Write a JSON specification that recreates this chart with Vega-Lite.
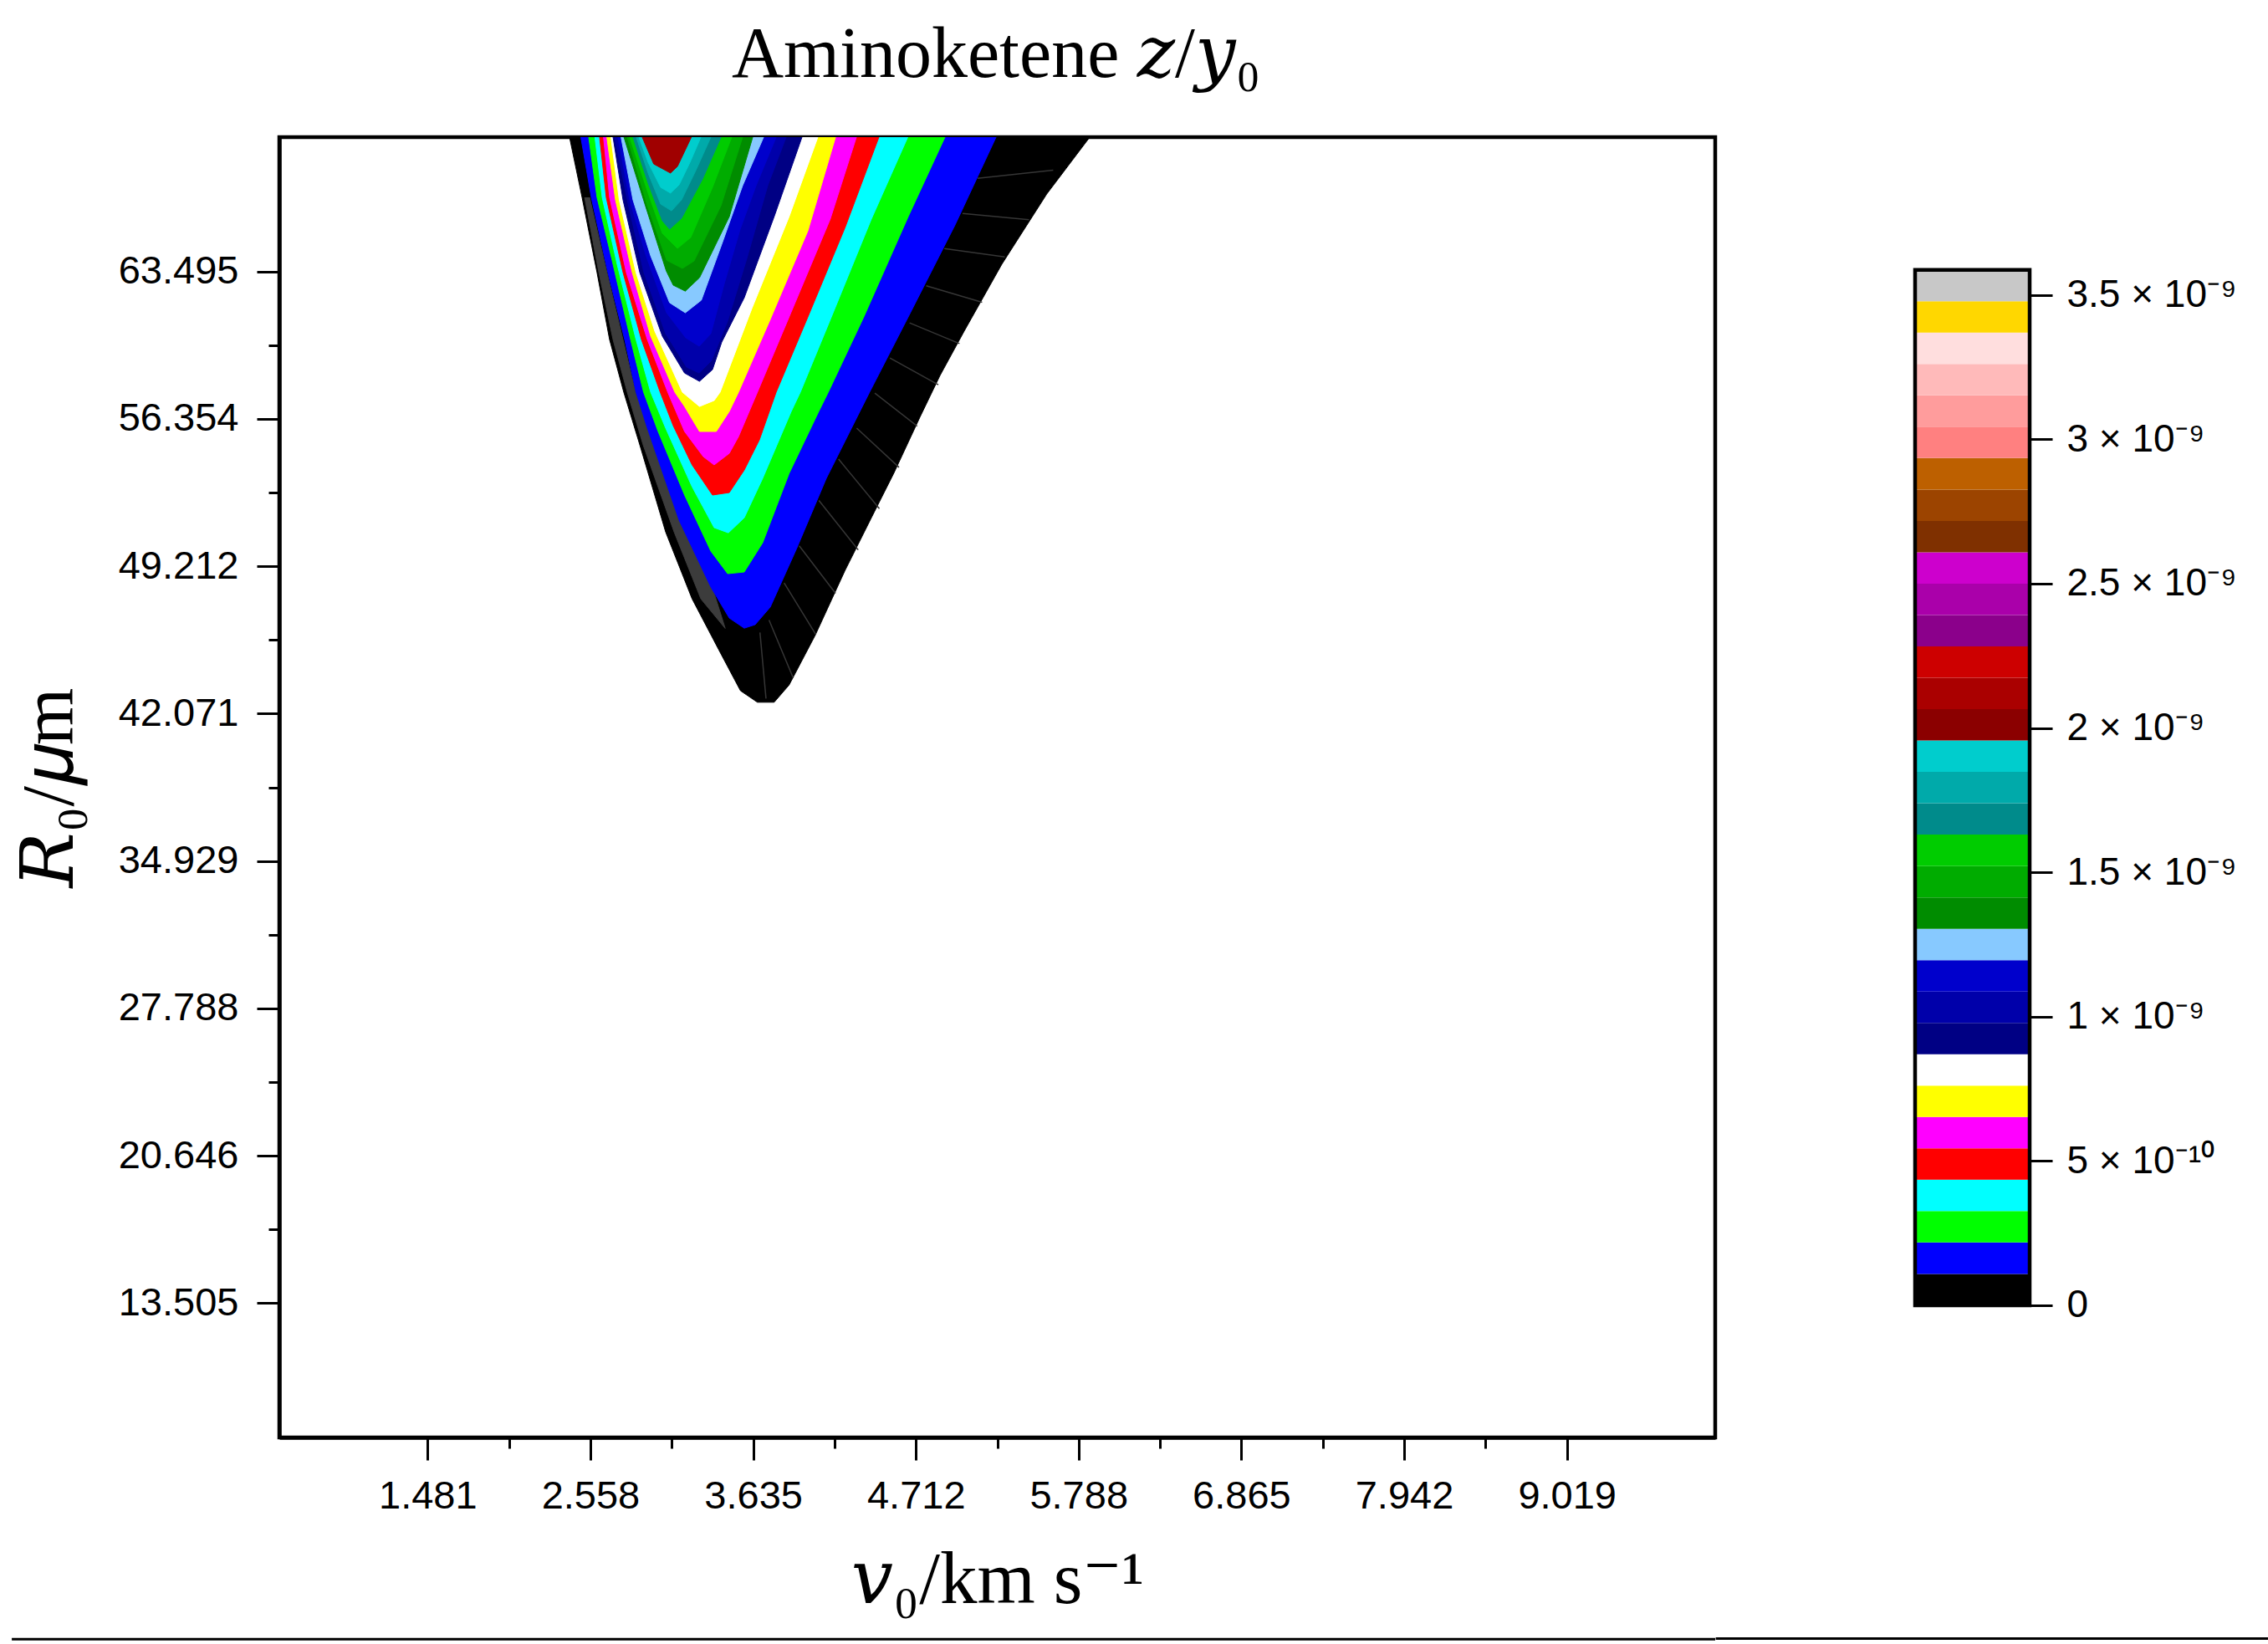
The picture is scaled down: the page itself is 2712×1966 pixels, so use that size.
{
"$schema":"https://vega.github.io/schema/vega-lite/v6.json",
"padding":{"left":10,"top":22,"right":0,"bottom":0},
"background":"white",
"spacing":-8,
"config":{"view":{"stroke":null}},
"resolve":{"scale":{"fill":"independent","stroke":"independent","x":"independent","y":"independent"}},
"datasets":{
"baseMain":[{"from":-1.27,"to":10,"at":-2.77}],
"baseBar":[{"from":-1.74,"to":3.08,"at":-1.155e-9}],
"barFrame":[{"from":0,"to":1,"lo":0,"hi":3.5871e-9}],
"hatch":[
{"seg":1,"v":5.12,"R":68.0},{"seg":1,"v":5.62,"R":68.4},
{"seg":2,"v":5.02,"R":66.3},{"seg":2,"v":5.46,"R":66.0},
{"seg":3,"v":4.9,"R":64.6},{"seg":3,"v":5.3,"R":64.2},
{"seg":4,"v":4.78,"R":62.8},{"seg":4,"v":5.15,"R":62.0},
{"seg":5,"v":4.67,"R":61.0},{"seg":5,"v":5.0,"R":60.0},
{"seg":6,"v":4.54,"R":59.3},{"seg":6,"v":4.86,"R":58.0},
{"seg":7,"v":4.44,"R":57.6},{"seg":7,"v":4.72,"R":56.0},
{"seg":8,"v":4.32,"R":55.9},{"seg":8,"v":4.6,"R":54.0},
{"seg":9,"v":4.2,"R":54.4},{"seg":9,"v":4.47,"R":52.0},
{"seg":10,"v":4.07,"R":52.4},{"seg":10,"v":4.33,"R":50.0},
{"seg":11,"v":3.94,"R":50.2},{"seg":11,"v":4.18,"R":47.9},
{"seg":12,"v":3.84,"R":48.4},{"seg":12,"v":4.05,"R":45.9},
{"seg":13,"v":3.74,"R":46.6},{"seg":13,"v":3.9,"R":43.8},
{"seg":14,"v":3.68,"R":46.0},{"seg":14,"v":3.72,"R":42.8}
],
"bands":[
{"level":0,"lo":0,"hi":1.087e-10},{"level":1,"lo":1.087e-10,"hi":2.174e-10},{"level":2,"lo":2.174e-10,"hi":3.261e-10},{"level":3,"lo":3.261e-10,"hi":4.348e-10},{"level":4,"lo":4.348e-10,"hi":5.435e-10},{"level":5,"lo":5.435e-10,"hi":6.522e-10},{"level":6,"lo":6.522e-10,"hi":7.609e-10},{"level":7,"lo":7.609e-10,"hi":8.696e-10},{"level":8,"lo":8.696e-10,"hi":9.783e-10},{"level":9,"lo":9.783e-10,"hi":1.087e-9},{"level":10,"lo":1.087e-9,"hi":1.1957e-9},{"level":11,"lo":1.1957e-9,"hi":1.3044e-9},{"level":12,"lo":1.3044e-9,"hi":1.4131e-9},{"level":13,"lo":1.4131e-9,"hi":1.5218e-9},{"level":14,"lo":1.5218e-9,"hi":1.6305e-9},{"level":15,"lo":1.6305e-9,"hi":1.7392e-9},{"level":16,"lo":1.7392e-9,"hi":1.8479e-9},{"level":17,"lo":1.8479e-9,"hi":1.9566e-9},{"level":18,"lo":1.9566e-9,"hi":2.0653e-9},{"level":19,"lo":2.0653e-9,"hi":2.174e-9},{"level":20,"lo":2.174e-9,"hi":2.2827e-9},{"level":21,"lo":2.2827e-9,"hi":2.3914e-9},{"level":22,"lo":2.3914e-9,"hi":2.5001e-9},{"level":23,"lo":2.5001e-9,"hi":2.6088e-9},{"level":24,"lo":2.6088e-9,"hi":2.7175e-9},{"level":25,"lo":2.7175e-9,"hi":2.8262e-9},{"level":26,"lo":2.8262e-9,"hi":2.9349e-9},{"level":27,"lo":2.9349e-9,"hi":3.0436e-9},{"level":28,"lo":3.0436e-9,"hi":3.1523e-9},{"level":29,"lo":3.1523e-9,"hi":3.261e-9},{"level":30,"lo":3.261e-9,"hi":3.3697e-9},{"level":31,"lo":3.3697e-9,"hi":3.4784e-9},{"level":32,"lo":3.4784e-9,"hi":3.5871e-9}
],
"contours":[
{"level":0,"v":2.42,"R":70},{"level":0,"v":2.503,"R":67.08},{"level":0,"v":2.602,"R":63.44},{"level":0,"v":2.685,"R":60.19},{"level":0,"v":2.779,"R":57.64},{"level":0,"v":2.885,"R":55.09},{"level":0,"v":3.056,"R":50.87},{"level":0,"v":3.231,"R":47.63},{"level":0,"v":3.405,"R":45.2},{"level":0,"v":3.551,"R":43.18},{"level":0,"v":3.663,"R":42.62},{"level":0,"v":3.774,"R":42.62},{"level":0,"v":3.873,"R":43.46},{"level":0,"v":4.047,"R":45.89},{"level":0,"v":4.243,"R":49.01},{"level":0,"v":4.417,"R":51.56},{"level":0,"v":4.565,"R":53.71},{"level":0,"v":4.738,"R":56.43},{"level":0,"v":4.871,"R":58.45},{"level":0,"v":5.031,"R":60.6},{"level":0,"v":5.28,"R":63.84},{"level":0,"v":5.577,"R":67.24},{"level":0,"v":5.862,"R":70},
{"level":0.5,"v":2.52,"R":67.08},{"level":0.5,"v":2.614,"R":63.44},{"level":0.5,"v":2.708,"R":60.19},{"level":0.5,"v":2.802,"R":57.64},{"level":0.5,"v":2.907,"R":55.09},{"level":0.5,"v":3.112,"R":50.87},{"level":0.5,"v":3.289,"R":47.63},{"level":0.5,"v":3.45,"R":46.2},{"level":0.5,"v":3.36,"R":48.3},{"level":0.5,"v":3.2,"R":50.87},{"level":0.5,"v":2.984,"R":55.09},{"level":0.5,"v":2.857,"R":57.64},{"level":0.5,"v":2.774,"R":60.19},{"level":0.5,"v":2.668,"R":63.44},{"level":0.5,"v":2.553,"R":67.08},
{"level":1,"v":2.495,"R":70},{"level":1,"v":2.564,"R":67.08},{"level":1,"v":2.674,"R":63.44},{"level":1,"v":2.785,"R":60.19},{"level":1,"v":2.86,"R":57.64},{"level":1,"v":2.935,"R":55.9},{"level":1,"v":3.145,"R":51.44},{"level":1,"v":3.355,"R":48.2},{"level":1,"v":3.477,"R":46.7},{"level":1,"v":3.576,"R":46.21},{"level":1,"v":3.648,"R":46.38},{"level":1,"v":3.748,"R":47.23},{"level":1,"v":3.922,"R":50.06},{"level":1,"v":4.119,"R":53.47},{"level":1,"v":4.33,"R":56.55},{"level":1,"v":4.405,"R":57.64},{"level":1,"v":4.661,"R":61.29},{"level":1,"v":4.971,"R":65.75},{"level":1,"v":5.242,"R":70},
{"level":2,"v":2.547,"R":70},{"level":2,"v":2.602,"R":67.08},{"level":2,"v":2.699,"R":64.12},{"level":2,"v":2.824,"R":60.19},{"level":2,"v":2.91,"R":57.64},{"level":2,"v":3.006,"R":55.74},{"level":2,"v":3.181,"R":52.66},{"level":2,"v":3.355,"R":49.94},{"level":2,"v":3.466,"R":48.85},{"level":2,"v":3.576,"R":48.93},{"level":2,"v":3.698,"R":50.35},{"level":2,"v":3.873,"R":53.71},{"level":2,"v":4.069,"R":56.71},{"level":2,"v":4.132,"R":57.64},{"level":2,"v":4.367,"R":61.29},{"level":2,"v":4.661,"R":66.15},{"level":2,"v":4.904,"R":70},
{"level":3,"v":2.588,"R":70},{"level":3,"v":2.636,"R":67.08},{"level":3,"v":2.735,"R":63.84},{"level":3,"v":2.86,"R":60.19},{"level":3,"v":2.957,"R":57.64},{"level":3,"v":3.056,"R":55.9},{"level":3,"v":3.231,"R":53.06},{"level":3,"v":3.377,"R":51.08},{"level":3,"v":3.471,"R":50.83},{"level":3,"v":3.576,"R":51.56},{"level":3,"v":3.698,"R":53.47},{"level":3,"v":3.887,"R":56.71},{"level":3,"v":3.947,"R":57.64},{"level":3,"v":4.146,"R":61.17},{"level":3,"v":4.417,"R":66.03},{"level":3,"v":4.658,"R":70},
{"level":4,"v":2.619,"R":70},{"level":4,"v":2.663,"R":67.08},{"level":4,"v":2.774,"R":63.44},{"level":4,"v":2.896,"R":60.19},{"level":4,"v":3.02,"R":57.64},{"level":4,"v":3.106,"R":56.02},{"level":4,"v":3.231,"R":54.12},{"level":4,"v":3.366,"R":52.66},{"level":4,"v":3.477,"R":52.78},{"level":4,"v":3.576,"R":53.87},{"level":4,"v":3.676,"R":55.33},{"level":4,"v":3.787,"R":57.64},{"level":4,"v":3.997,"R":61.29},{"level":4,"v":4.243,"R":65.62},{"level":4,"v":4.467,"R":70},
{"level":5,"v":2.645,"R":70},{"level":5,"v":2.685,"R":67.08},{"level":5,"v":2.796,"R":63.44},{"level":5,"v":2.935,"R":60.19},{"level":5,"v":3.07,"R":57.64},{"level":5,"v":3.181,"R":55.74},{"level":5,"v":3.305,"R":54.52},{"level":5,"v":3.377,"R":54.12},{"level":5,"v":3.477,"R":54.68},{"level":5,"v":3.538,"R":55.49},{"level":5,"v":3.663,"R":57.64},{"level":5,"v":3.873,"R":61.29},{"level":5,"v":4.145,"R":66.03},{"level":5,"v":4.318,"R":70},
{"level":6,"v":2.667,"R":70},{"level":6,"v":2.724,"R":66.96},{"level":6,"v":2.835,"R":63.44},{"level":6,"v":2.957,"R":60.36},{"level":6,"v":3.117,"R":57.64},{"level":6,"v":3.181,"R":56.95},{"level":6,"v":3.28,"R":55.74},{"level":6,"v":3.391,"R":55.74},{"level":6,"v":3.477,"R":56.71},{"level":6,"v":3.538,"R":57.64},{"level":6,"v":3.748,"R":61.17},{"level":6,"v":3.997,"R":65.46},{"level":6,"v":4.18,"R":70},
{"level":7,"v":2.694,"R":70},{"level":7,"v":2.749,"R":66.96},{"level":7,"v":2.86,"R":63.44},{"level":7,"v":2.984,"R":60.6},{"level":7,"v":3.167,"R":57.64},{"level":7,"v":3.28,"R":56.95},{"level":7,"v":3.377,"R":57.24},{"level":7,"v":3.416,"R":57.64},{"level":7,"v":3.626,"R":61.69},{"level":7,"v":3.873,"R":66.15},{"level":7,"v":4.063,"R":70},
{"level":8,"v":2.708,"R":70},{"level":8,"v":2.774,"R":66.96},{"level":8,"v":2.885,"R":63.44},{"level":8,"v":3.034,"R":60.36},{"level":8,"v":3.181,"R":58.57},{"level":8,"v":3.28,"R":58.17},{"level":8,"v":3.366,"R":58.74},{"level":8,"v":3.427,"R":60.07},{"level":8,"v":3.576,"R":62.22},{"level":8,"v":3.774,"R":66.15},{"level":8,"v":3.958,"R":70},
{"level":9,"v":2.719,"R":70},{"level":9,"v":2.802,"R":66.96},{"level":9,"v":2.912,"R":63.44},{"level":9,"v":3.056,"R":60.48},{"level":9,"v":3.194,"R":58.86},{"level":9,"v":3.278,"R":58.57},{"level":9,"v":3.36,"R":59.18},{"level":9,"v":3.466,"R":61.09},{"level":9,"v":3.593,"R":64.12},{"level":9,"v":3.731,"R":67.65},{"level":9,"v":3.853,"R":70},
{"level":10,"v":2.74,"R":70},{"level":10,"v":2.818,"R":66.96},{"level":10,"v":2.923,"R":64.33},{"level":10,"v":3.062,"R":61.49},{"level":10,"v":3.189,"R":60.28},{"level":10,"v":3.278,"R":59.87},{"level":10,"v":3.355,"R":60.48},{"level":10,"v":3.444,"R":62.91},{"level":10,"v":3.549,"R":65.54},{"level":10,"v":3.654,"R":67.65},{"level":10,"v":3.787,"R":70},
{"level":11,"v":2.761,"R":70},{"level":11,"v":2.84,"R":66.96},{"level":11,"v":2.957,"R":64.25},{"level":11,"v":3.082,"R":61.98},{"level":11,"v":3.186,"R":61.49},{"level":11,"v":3.292,"R":62.1},{"level":11,"v":3.427,"R":64.81},{"level":11,"v":3.565,"R":67.65},{"level":11,"v":3.704,"R":70},
{"level":12,"v":2.78,"R":70},{"level":12,"v":2.922,"R":66.68},{"level":12,"v":3.06,"R":63.52},{"level":12,"v":3.106,"R":62.83},{"level":12,"v":3.186,"R":62.54},{"level":12,"v":3.28,"R":63.19},{"level":12,"v":3.477,"R":66.15},{"level":12,"v":3.632,"R":70},
{"level":13,"v":2.802,"R":70},{"level":13,"v":2.935,"R":66.68},{"level":13,"v":3.062,"R":64.04},{"level":13,"v":3.167,"R":63.64},{"level":13,"v":3.244,"R":64.0},{"level":13,"v":3.422,"R":66.68},{"level":13,"v":3.565,"R":70},
{"level":14,"v":2.818,"R":70},{"level":14,"v":2.94,"R":67.29},{"level":14,"v":3.034,"R":65.34},{"level":14,"v":3.134,"R":64.61},{"level":14,"v":3.222,"R":65.14},{"level":14,"v":3.366,"R":67.57},{"level":14,"v":3.493,"R":70},
{"level":15,"v":2.84,"R":70},{"level":15,"v":2.94,"R":67.77},{"level":15,"v":3.034,"R":65.95},{"level":15,"v":3.082,"R":65.54},{"level":15,"v":3.161,"R":66.07},{"level":15,"v":3.3,"R":67.97},{"level":15,"v":3.422,"R":70},
{"level":16,"v":2.862,"R":70},{"level":16,"v":2.94,"R":68.26},{"level":16,"v":3.023,"R":66.76},{"level":16,"v":3.095,"R":66.43},{"level":16,"v":3.161,"R":66.96},{"level":16,"v":3.255,"R":68.38},{"level":16,"v":3.355,"R":70},
{"level":17,"v":2.879,"R":70},{"level":17,"v":2.94,"R":68.78},{"level":17,"v":3.023,"R":67.57},{"level":17,"v":3.088,"R":67.29},{"level":17,"v":3.145,"R":67.69},{"level":17,"v":3.217,"R":68.78},{"level":17,"v":3.289,"R":70},
{"level":18,"v":2.901,"R":70},{"level":18,"v":2.977,"R":68.7},{"level":18,"v":3.088,"R":68.26},{"level":18,"v":3.134,"R":68.58},{"level":18,"v":3.226,"R":70}
]},
"title":{"text":"Aminoketene 𝑧/𝑦₀","font":"'Liberation Serif','DejaVu Serif'","fontSize":86,"fontWeight":"normal","color":"black","anchor":"start","frame":"group","dx":541,"offset":52},
"hconcat":[
{"width":1717,"height":1555,
 "view":{"stroke":"black","strokeWidth":4.5},
 "layer":[
 {"data":{"name":"contours"},"mark":{"type":"line","strokeWidth":1,"clip":true},
  "transform":[{"window":[{"op":"row_number","as":"ord"}],"groupby":["level"]}],
  "encoding":{
   "x":{"field":"v","type":"quantitative","scale":{"domain":[0.5,10],"nice":false,"zero":false},
     "axis":{"values":[1.481,2.0195,2.558,3.0965,3.635,4.1735,4.712,5.25,5.788,6.3265,6.865,7.4035,7.942,8.4805,9.019],
      "labelExpr":"indexof([1.481,2.558,3.635,4.712,5.788,6.865,7.942,9.019],datum.value)>=0?format(datum.value,'.3f'):''",
      "tickSize":{"condition":{"test":"indexof([1.481,2.558,3.635,4.712,5.788,6.865,7.942,9.019],datum.value)>=0","value":27},"value":13},
      "tickWidth":3,"tickColor":"black","domainColor":"black","domainWidth":4.5,"grid":false,"labelFont":"Liberation Sans","labelFontSize":47,"labelColor":"black","labelPadding":20,"labelFlush":false,"labelOverlap":false,
      "title":"𝑣₀/km s⁻¹","titleFont":"'Liberation Serif','DejaVu Serif'","titleFontSize":89,"titleFontWeight":"normal","titleColor":"black","titlePadding":34}},
   "y":{"field":"R","type":"quantitative","scale":{"domain":[7,70],"nice":false,"zero":false},
     "axis":{"values":[13.505,17.075,20.646,24.217,27.788,31.358,34.929,38.5,42.071,45.641,49.212,52.783,56.354,59.924,63.495],
      "labelExpr":"indexof([13.505,20.646,27.788,34.929,42.071,49.212,56.354,63.495],datum.value)>=0?format(datum.value,'.3f'):''",
      "tickSize":{"condition":{"test":"indexof([13.505,20.646,27.788,34.929,42.071,49.212,56.354,63.495],datum.value)>=0","value":27},"value":13},
      "tickWidth":3,"tickColor":"black","domainColor":"black","domainWidth":4.5,"grid":false,"labelFont":"Liberation Sans","labelFontSize":47,"labelColor":"black","labelPadding":22,"labelFlush":false,"labelOverlap":false,
      "title":"𝑅₀/𝜇m","titleFont":"'Liberation Serif','DejaVu Serif'","titleFontSize":88,"titleFontWeight":"normal","titleColor":"black","titlePadding":37}},
   "order":{"field":"ord","type":"quantitative"},
   "fill":{"field":"level","type":"ordinal","legend":null,"scale":{"domain":[0,0.5,1,2,3,4,5,6,7,8,9,10,11,12,13,14,15,16,17,18],"range":["#000000","#3c3c3c","#0000ff","#00ff00","#00ffff","#ff0000","#ff00ff","#ffff00","#ffffff","#000084","#0000aa","#0000cc","#87c9ff","#008c00","#00ac00","#00cc00","#008b8b","#00aaaa","#00cdcd","#a00000"]}},
   "stroke":{"field":"level","type":"ordinal","legend":null,"scale":{"domain":[0,0.5,1,2,3,4,5,6,7,8,9,10,11,12,13,14,15,16,17,18],"range":["#000000","#3c3c3c","#0000ff","#00ff00","#00ffff","#ff0000","#ff00ff","#ffff00","#ffffff","#000084","#0000aa","#0000cc","#87c9ff","#008c00","#00ac00","#00cc00","#008b8b","#00aaaa","#00cdcd","#a00000"]}}
  }},
 {"data":{"name":"hatch"},"mark":{"type":"line","color":"#363636","strokeWidth":1.5},
  "encoding":{"x":{"field":"v","type":"quantitative"},"y":{"field":"R","type":"quantitative"},"detail":{"field":"seg","type":"nominal"}}},
 {"data":{"name":"baseMain"},"mark":{"type":"rule","color":"black","strokeWidth":3},
  "encoding":{"x":{"field":"from","type":"quantitative"},"x2":{"field":"to"},"y":{"field":"at","type":"quantitative"}}}
 ]},
{"width":137,"height":1555,
 "view":{"stroke":"white","strokeWidth":4.5},
 "layer":[
 {"data":{"name":"bands"},"mark":{"type":"rect"},
  "encoding":{
   "x":{"datum":0,"scale":{"domain":[0,1],"nice":false,"zero":false},"axis":null},
   "x2":{"datum":1},
   "y":{"field":"lo","type":"quantitative","scale":{"domain":[-4.58e-10,4.047e-9],"nice":false,"zero":false},
    "axis":{"orient":"right","values":[0,5e-10,1e-9,1.5e-9,2e-9,2.5e-9,3e-9,3.5e-9],
     "labelExpr":"datum.value==0?'0':(datum.value<6e-10?'5 × 10⁻¹⁰':(round(datum.value*2e9)/2)+' × 10⁻⁹')",
     "domain":false,"tickSize":27,"tickWidth":3,"tickColor":"black","grid":false,"labelFont":"Liberation Sans","labelFontSize":46,"labelColor":"black","labelPadding":17,"labelLimit":500,"labelOverlap":false,"labelFlush":false,"title":null}},
   "y2":{"field":"hi"},
   "fill":{"field":"level","type":"ordinal","legend":null,"scale":{"domain":[0,1,2,3,4,5,6,7,8,9,10,11,12,13,14,15,16,17,18,19,20,21,22,23,24,25,26,27,28,29,30,31,32],"range":["#000000","#0000ff","#00ff00","#00ffff","#ff0000","#ff00ff","#ffff00","#ffffff","#000084","#0000aa","#0000cc","#87c9ff","#008c00","#00ac00","#00cc00","#008b8b","#00aaaa","#00cdcd","#8b0000","#aa0000","#cd0000","#8b008b","#aa00aa","#cd00cd","#7f3000","#9c4400","#bd6000","#ff8080","#ff9c9c","#ffbaba","#ffdede","#ffd700","#c8c8c8"]}}
  }},
 {"data":{"name":"barFrame"},"mark":{"type":"rect","fillOpacity":0,"stroke":"black","strokeWidth":4.5},
  "encoding":{"x":{"field":"from","type":"quantitative"},"x2":{"field":"to"},"y":{"field":"lo","type":"quantitative"},"y2":{"field":"hi"}}},
 {"data":{"name":"baseBar"},"mark":{"type":"rule","color":"black","strokeWidth":3},
  "encoding":{"x":{"field":"from","type":"quantitative"},"x2":{"field":"to"},"y":{"field":"at","type":"quantitative"}}}
 ]}
]}
